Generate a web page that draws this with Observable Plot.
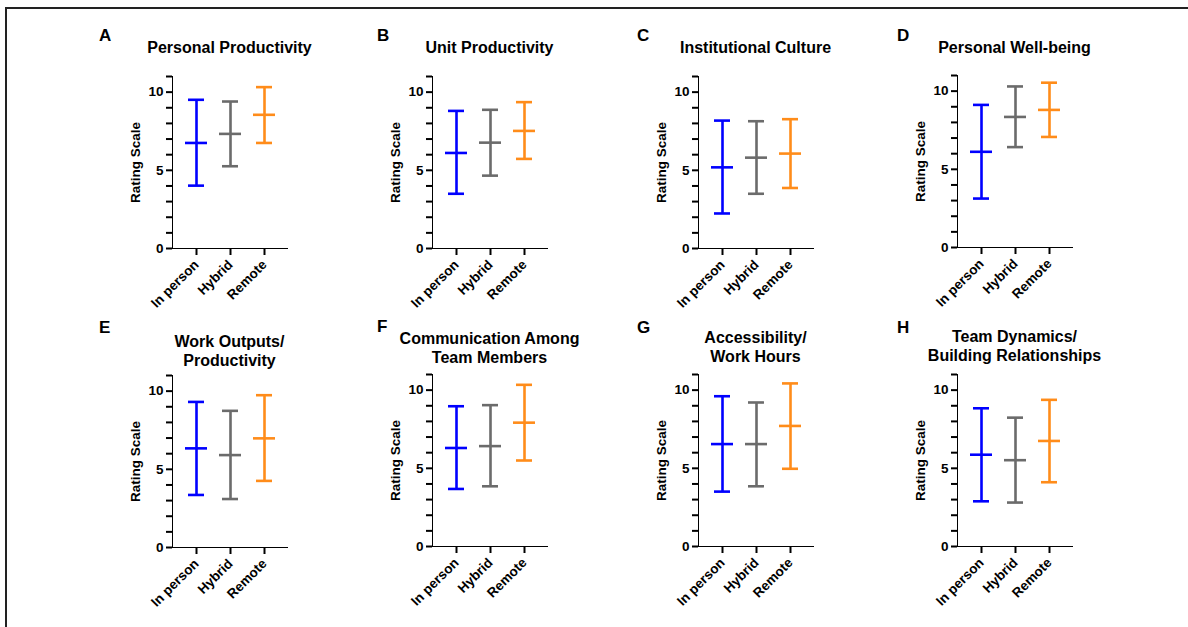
<!DOCTYPE html>
<html><head><meta charset="utf-8">
<script src="https://cdn.jsdelivr.net/npm/d3@7"></script>
<script src="https://cdn.jsdelivr.net/npm/@observablehq/plot@0.6"></script>
<style>
body{margin:0;background:#fff;font-family:"Liberation Sans",Arial,sans-serif;}
#root{position:relative;width:1188px;height:627px;overflow:hidden;background:#fff;}
.frame{position:absolute;left:5px;top:7px;width:1300px;height:700px;border-left:2px solid #222;border-top:2px solid #222;}
.letter{position:absolute;font-weight:bold;font-size:17px;line-height:17px;color:#000;}
.title{position:absolute;width:260px;text-align:center;font-weight:bold;font-size:16px;line-height:19px;color:#000;white-space:nowrap;}
.panel{position:absolute;}
.panel svg [aria-label*="axis"] *{stroke-width:2px;}
.panel svg [aria-label="frame"] *{stroke-width:2px;}
.panel svg [aria-label*="axis"] text{stroke-width:0;}
</style></head><body><div id="root"><div class="frame"></div></div>
<script>
const groups = ["In person", "Hybrid", "Remote"];
const colors = ["#0000ff", "#6b6b6b", "#ff8c1a"];
const panelLetters = ["A", "B", "C", "D", "E", "F", "G", "H"];
const panelTitles = [
  ["Personal Productivity"],
  ["Unit Productivity"],
  ["Institutional Culture"],
  ["Personal Well-being"],
  ["Work Outputs/", "Productivity"],
  ["Communication Among", "Team Members"],
  ["Accessibility/", "Work Hours"],
  ["Team Dynamics/", "Building Relationships"]
];
const yAxisLabel = "Rating Scale";
const lowerValues = [
  [4.02, 5.26, 6.75],
  [3.50, 4.66, 5.73],
  [2.24, 3.50, 3.87],
  [3.13, 6.42, 7.07],
  [3.36, 3.10, 4.26],
  [3.68, 3.85, 5.50],
  [3.51, 3.85, 4.97],
  [2.89, 2.81, 4.11]
];
const meanValues = [
  [6.75, 7.33, 8.55],
  [6.11, 6.77, 7.52],
  [5.19, 5.81, 6.07],
  [6.12, 8.35, 8.80],
  [6.34, 5.91, 6.98],
  [6.30, 6.42, 7.92],
  [6.55, 6.55, 7.71],
  [5.87, 5.52, 6.75]
];
const upperValues = [
  [9.51, 9.40, 10.32],
  [8.80, 8.87, 9.36],
  [8.18, 8.14, 8.27],
  [9.12, 10.30, 10.54],
  [9.31, 8.74, 9.74],
  [8.97, 9.04, 10.34],
  [9.61, 9.21, 10.43],
  [8.84, 8.24, 9.38]
];
const yTicks = [0, 1, 2, 3, 4, 5, 6, 7, 8, 9, 10, 11];
const yTickLabels = [0, 5, 10];

// layout (pixels)
const axisLeft = [172, 432, 698, 957, 172, 432, 698, 957];
const axisBottom = [247.5, 247.5, 247.5, 247, 547.3, 545.7, 545.7, 546];
const titleTop = [38, 38, 38, 38, 331.7, 329.3, 328.3, 326.7];
const letterLeft = [99, 377, 637, 897, 99, 377, 637, 897];
const letterTop = [27, 27, 27, 27, 318.6, 318, 318.6, 318.6];
const ML = 60, MR = 10, MT = 6, MB = 70, IW = 115, IH = 172;

const root = document.getElementById("root");

panelLetters.forEach((letter, p) => {
  const rows = groups.map((g, i) => ({group: g, lo: lowerValues[p][i], mean: meanValues[p][i], hi: upperValues[p][i]}));

  const L = document.createElement("div");
  L.className = "letter";
  L.style.left = letterLeft[p] + "px";
  L.style.top = letterTop[p] + "px";
  L.textContent = letter;
  root.appendChild(L);

  const T = document.createElement("div");
  T.className = "title";
  T.style.left = (axisLeft[p] + IW / 2 - 130) + "px";
  T.style.top = titleTop[p] + "px";
  panelTitles[p].forEach((line, k) => {
    if (k) T.appendChild(document.createElement("br"));
    T.appendChild(document.createTextNode(line));
  });
  root.appendChild(T);

  const chart = Plot.plot({
    width: ML + IW + MR,
    height: MT + IH + MB,
    marginLeft: ML, marginRight: MR, marginTop: MT, marginBottom: MB,
    style: {fontFamily: "Liberation Sans, Arial, sans-serif", fontSize: "13.5px", fontWeight: "bold", color: "#000", background: "transparent", overflow: "visible"},
    x: {type: "band", domain: groups, paddingInner: 0.5335, paddingOuter: 0.443, align: 0.5, tickSize: 7, tickPadding: 7, tickRotate: -45, label: null, line: true},
    y: {domain: [0, 11], ticks: yTicks, tickFormat: d => yTickLabels.includes(d) ? String(d) : "", tickSize: 6, tickPadding: 3, label: null, line: true},
    color: {domain: groups, range: colors},
    marks: [
      Plot.ruleX(rows, {x: "group", y1: "lo", y2: "hi", stroke: "group", strokeWidth: 2.6}),
      Plot.tickY(rows, {x: "group", y: "hi", stroke: "group", strokeWidth: 2.6}),
      Plot.tickY(rows, {x: "group", y: "lo", stroke: "group", strokeWidth: 2.6}),
      Plot.tickY(rows, {x: "group", y: "mean", stroke: "group", strokeWidth: 2.6, insetLeft: -3, insetRight: -3}),
      Plot.text([yAxisLabel], {text: d => d, frameAnchor: "left", textAnchor: "middle", lineAnchor: "middle", rotate: -90, dx: -37, fontSize: 13.5, fontWeight: "bold", fill: "#000"})
    ]
  });
  const wrap = document.createElement("div");
  wrap.className = "panel";
  wrap.style.left = (axisLeft[p] - ML) + "px";
  wrap.style.top = (axisBottom[p] - IH - MT) + "px";
  wrap.appendChild(chart);
  root.appendChild(wrap);
});
</script>
</body></html>
